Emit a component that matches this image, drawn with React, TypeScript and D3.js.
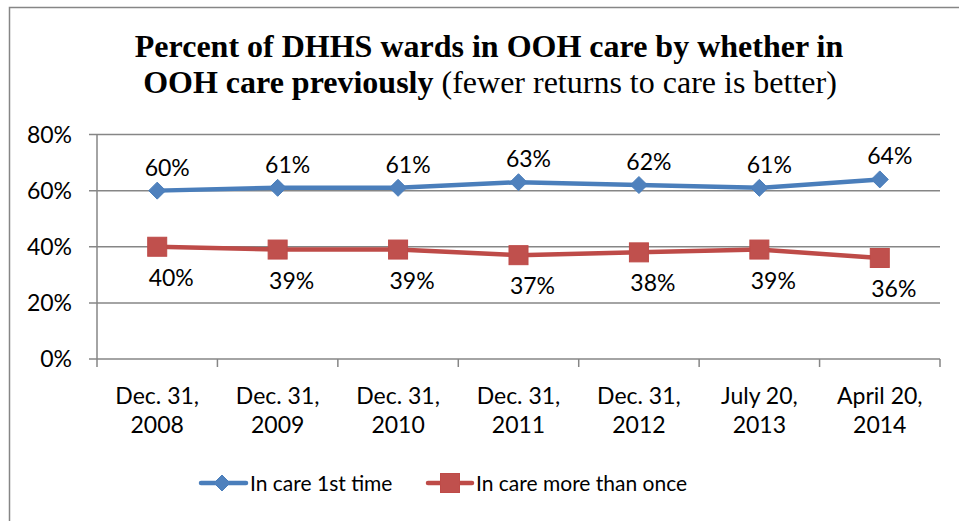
import React from "react";
import * as d3 from "d3";

const categories: string[][] = [
  ["Dec. 31,", "2008"],
  ["Dec. 31,", "2009"],
  ["Dec. 31,", "2010"],
  ["Dec. 31,", "2011"],
  ["Dec. 31,", "2012"],
  ["July 20,", "2013"],
  ["April 20,", "2014"],
];
const firstTime: number[] = [60, 61, 61, 63, 62, 61, 64];
const moreThanOnce: number[] = [40, 39, 39, 37, 38, 39, 36];
const yTicks: number[] = [0, 20, 40, 60, 80];
const seriesNames: string[] = ["In care 1st time", "In care more than once"];

const W = 959;
const H = 521;
const M = { left: 97, right: 940, top: 134.5, bottom: 359 };
const BLUE = "#4A7EBB";
const BLUE_M = "#4F81BD";
const RED = "#BE4B48";
const RED_M = "#C0504D";
const GRID = "#868686";
const FONT = "Lato, 'Open Sans', sans-serif";
const SERIF = "'Liberation Serif', 'Times New Roman', serif";

function T(props: { x: number; y: number; size: number; anchor?: string; children: React.ReactNode }) {
  const { x, y, size, anchor = "middle", children } = props;
  return (
    <text x={x} y={y} fontFamily={FONT} fontSize={size} textAnchor={anchor} fill="#000">
      {children}
    </text>
  );
}

export default function App() {
  const x = d3
    .scaleBand<number>()
    .domain(d3.range(categories.length))
    .range([M.left, M.right]);
  const y = d3.scaleLinear().domain([0, 80]).range([M.bottom, M.top]);
  const cx = (i: number) => (x(i) as number) + x.bandwidth() / 2;
  const line = d3
    .line<number>()
    .x((_, i) => cx(i))
    .y((d) => y(d));
  const diamond = (s: number) => `M0,${-s}L${s},0L0,${s}L${-s},0Z`;
  const bounds = d3.range(categories.length + 1).map((i) => M.left + i * x.bandwidth());

  return (
    <svg width={W} height={H} style={{ position: "absolute", left: 0, top: 0 }}>
      <rect x={0} y={0} width={W} height={H} fill="#fff" />
      <rect x={9.5} y={7.5} width={W + 20} height={H + 20} fill="none" stroke={GRID} strokeWidth={1.5} />
      <text x={489} y={57} textAnchor="middle" fontFamily={SERIF} fontSize={32} fontWeight="bold">
        Percent of DHHS wards in OOH care by whether in
      </text>
      <text x={490} y={93} textAnchor="middle" fontFamily={SERIF} fontSize={32}>
        <tspan fontWeight="bold">OOH care previously</tspan> (fewer returns to care is better)
      </text>
      {yTicks.map((t) => (
        <g key={t}>
          <line x1={M.left - 8} x2={M.right} y1={y(t)} y2={y(t)} stroke={GRID} strokeWidth={1.5} />
          <T x={72} y={y(t) + 8} size={23} anchor="end">{`${t}%`}</T>
        </g>
      ))}
      <line x1={M.left} x2={M.left} y1={M.top} y2={M.bottom} stroke={GRID} strokeWidth={1.5} />
      {bounds.map((b, i) => (
        <line key={i} x1={b} x2={b} y1={M.bottom} y2={M.bottom + 8} stroke={GRID} strokeWidth={1.5} />
      ))}
      {categories.map((c, i) => (
        <g key={i}>
          <T x={cx(i)} y={404} size={23}>{c[0]}</T>
          <T x={cx(i)} y={433} size={23}>{c[1]}</T>
        </g>
      ))}
      <path d={line(firstTime) as string} fill="none" stroke={BLUE} strokeWidth={4.5} strokeLinejoin="round" strokeLinecap="round" />
      <path d={line(moreThanOnce) as string} fill="none" stroke={RED} strokeWidth={4.5} strokeLinejoin="round" strokeLinecap="round" />
      {firstTime.map((v, i) => (
        <g key={"b" + i}>
          <path d={diamond(8.5)} transform={`translate(${cx(i)},${y(v)})`} fill={BLUE_M} stroke={BLUE} />
          <T x={cx(i) + 10} y={y(v) - 15} size={23}>{`${v}%`}</T>
        </g>
      ))}
      {moreThanOnce.map((v, i) => (
        <g key={"r" + i}>
          <rect x={cx(i) - 9.5} y={y(v) - 9.5} width={19} height={19} fill={RED_M} stroke={RED} />
          <T x={cx(i) + 14} y={y(v) + 39} size={23}>{`${v}%`}</T>
        </g>
      ))}
      <g>
        <line x1={201} x2={246} y1={483} y2={483} stroke={BLUE} strokeWidth={4.5} strokeLinecap="round" />
        <path d={diamond(8)} transform="translate(222,483)" fill={BLUE_M} stroke={BLUE} />
        <T x={250} y={491} size={21} anchor="start">{seriesNames[0]}</T>
        <line x1={428} x2={472} y1={483} y2={483} stroke={RED} strokeWidth={4.5} strokeLinecap="round" />
        <rect x={440.5} y={473.5} width={19} height={19} fill={RED_M} stroke={RED} />
        <T x={476} y={491} size={21} anchor="start">{seriesNames[1]}</T>
      </g>
    </svg>
  );
}
